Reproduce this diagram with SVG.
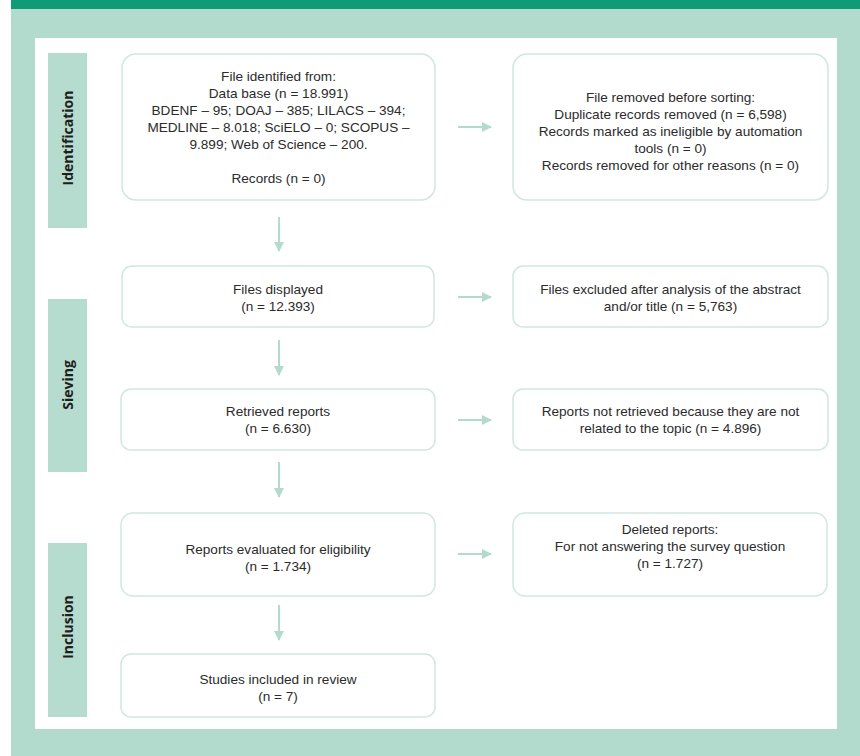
<svg xmlns="http://www.w3.org/2000/svg" width="860" height="756" viewBox="0 0 860 756">
<defs>
<style>
.box{fill:#ffffff;stroke:#cfe8df;stroke-width:1.5}
.lab{fill:#b5dccf}
.t{font-family:"Liberation Sans",Arial,sans-serif;font-size:13.6px;fill:#2b2b2b;text-anchor:middle}
.lt{font-family:"Open Sans","Liberation Sans",sans-serif;font-size:14px;font-weight:bold;fill:#1e1e1e;text-anchor:middle}
.c{stroke:#b2dbce;stroke-width:2;fill:none;marker-end:url(#ah)}
</style>
<marker id="ah" viewBox="0 0 10 10" refX="9" refY="5" markerWidth="5" markerHeight="5" orient="auto" markerUnits="strokeWidth">
<path d="M0,0 L10,5 L0,10 z" fill="#b2dbce"/>
</marker>
</defs>
<rect x="0" y="0" width="860" height="756" fill="#ffffff"/>
<rect x="11" y="0" width="849" height="756" fill="#b2dbce"/>
<rect x="11" y="0" width="849" height="9" fill="#119a76"/>
<rect x="35" y="38" width="802" height="691" fill="#ffffff"/>

<g id="label-identification"><rect class="lab" x="48" y="53" width="39" height="175"/><text class="lt" transform="translate(73,138) rotate(-90)">Identification</text></g>
<g id="label-sieving"><rect class="lab" x="48" y="299" width="39" height="173"/><text class="lt" transform="translate(73,385) rotate(-90)">Sieving</text></g>
<g id="label-inclusion"><rect class="lab" x="48" y="543" width="39" height="174"/><text class="lt" transform="translate(73,627) rotate(-90)">Inclusion</text></g>

<g id="connectors">
<line class="c" x1="458" y1="127" x2="491" y2="127"/>
<line class="c" x1="458" y1="297" x2="491" y2="297"/>
<line class="c" x1="458" y1="420" x2="491" y2="420"/>
<line class="c" x1="458" y1="554" x2="491" y2="554"/>
<line class="c" x1="279" y1="217" x2="279" y2="251"/>
<line class="c" x1="279" y1="340" x2="279" y2="375"/>
<line class="c" x1="279" y1="462" x2="279" y2="497"/>
<line class="c" x1="279" y1="605" x2="279" y2="640"/>
</g>

<g id="n-identified"><rect class="box" x="122" y="54" width="313" height="146" rx="14"/>
<text class="t" x="278.5" y="81">File identified from:</text>
<text class="t" x="278.5" y="98">Data base (n = 18.991)</text>
<text class="t" x="278.5" y="115">BDENF – 95; DOAJ – 385; LILACS – 394;</text>
<text class="t" x="278.5" y="132">MEDLINE – 8.018; SciELO – 0; SCOPUS –</text>
<text class="t" x="278.5" y="149">9.899; Web of Science – 200.</text>
<text class="t" x="278.5" y="183">Records (n = 0)</text>
</g>
<g id="n-removed"><rect class="box" x="513" y="54" width="315" height="146" rx="14"/>
<text class="t" x="670.5" y="102">File removed before sorting:</text>
<text class="t" x="670.5" y="119">Duplicate records removed (n = 6,598)</text>
<text class="t" x="670.5" y="136">Records marked as ineligible by automation</text>
<text class="t" x="670.5" y="153">tools (n = 0)</text>
<text class="t" x="670.5" y="170">Records removed for other reasons (n = 0)</text>
</g>
<g id="n-displayed"><rect class="box" x="122" y="266" width="312" height="61" rx="10"/>
<text class="t" x="278" y="294">Files displayed</text>
<text class="t" x="278" y="311">(n = 12.393)</text>
</g>
<g id="n-excluded"><rect class="box" x="513" y="266" width="315" height="61" rx="10"/>
<text class="t" x="670.5" y="294">Files excluded after analysis of the abstract</text>
<text class="t" x="670.5" y="311">and/or title (n = 5,763)</text>
</g>
<g id="n-retrieved"><rect class="box" x="121" y="389" width="314" height="61" rx="10"/>
<text class="t" x="278" y="416">Retrieved reports</text>
<text class="t" x="278" y="433">(n = 6.630)</text>
</g>
<g id="n-notretrieved"><rect class="box" x="513" y="389" width="315" height="61" rx="10"/>
<text class="t" x="670.5" y="416">Reports not retrieved because they are not</text>
<text class="t" x="670.5" y="433">related to the topic (n = 4.896)</text>
</g>
<g id="n-evaluated"><rect class="box" x="121" y="513" width="314" height="83" rx="12"/>
<text class="t" x="278" y="554">Reports evaluated for eligibility</text>
<text class="t" x="278" y="571">(n = 1.734)</text>
</g>
<g id="n-deleted"><rect class="box" x="513" y="513" width="314" height="83" rx="12"/>
<text class="t" x="670" y="534">Deleted reports:</text>
<text class="t" x="670" y="551">For not answering the survey question</text>
<text class="t" x="670" y="568">(n = 1.727)</text>
</g>
<g id="n-included"><rect class="box" x="121" y="654" width="314" height="63" rx="10"/>
<text class="t" x="278" y="684">Studies included in review</text>
<text class="t" x="278" y="701">(n = 7)</text>
</g>
</svg>
